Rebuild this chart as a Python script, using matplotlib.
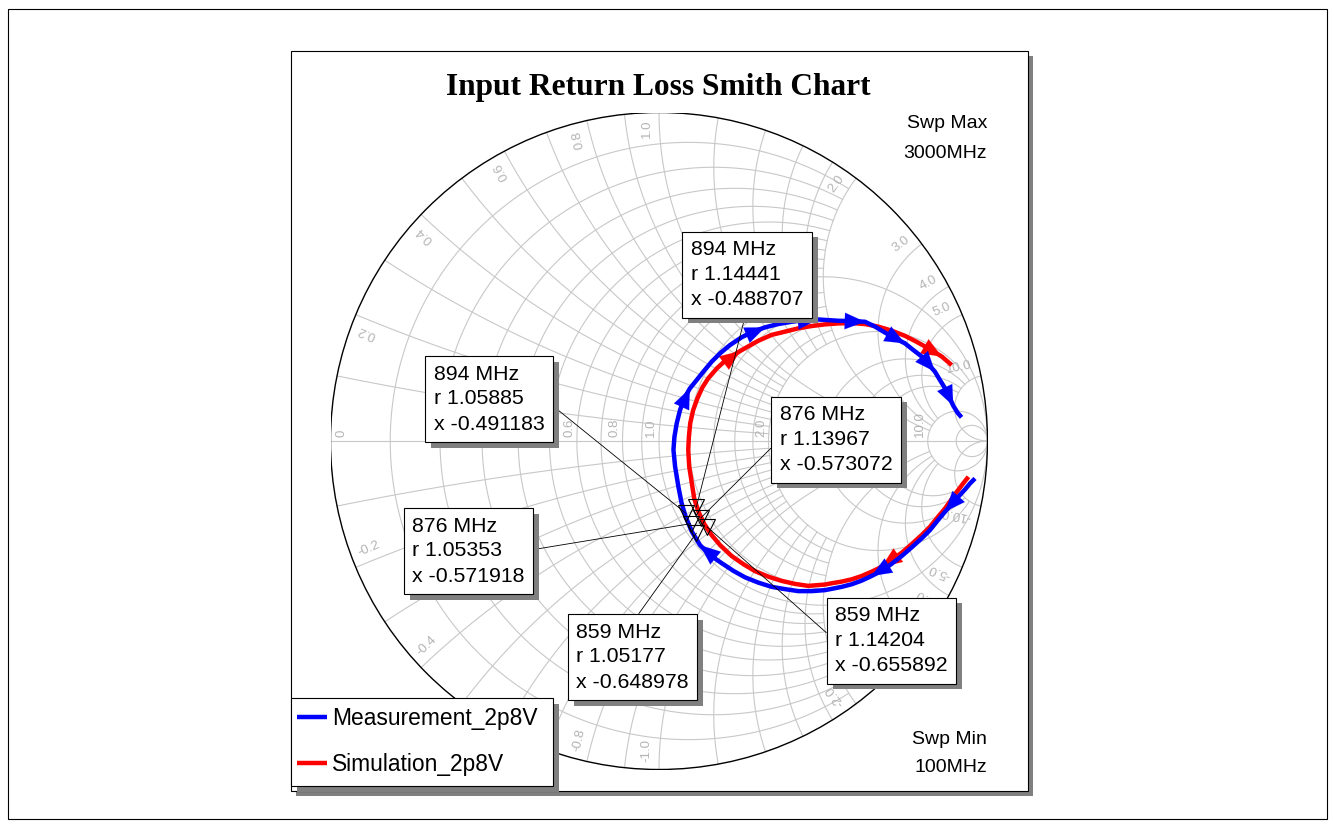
import numpy as np
import matplotlib
matplotlib.use("Agg")
import matplotlib.pyplot as plt
from matplotlib.patches import Rectangle, Circle
import matplotlib.patheffects as pe

# ---------------- data (reflection coefficient) ----------------
meas_re = [0.962, 0.947, 0.932, 0.911, 0.891, 0.871, 0.850, 0.825, 0.800, 0.769,
           0.739, 0.708, 0.678, 0.647, 0.617, 0.587, 0.556, 0.526, 0.505, 0.465,
           0.424, 0.384, 0.343, 0.302, 0.262, 0.226, 0.191, 0.155, 0.125, 0.100,
           0.081, 0.069, 0.059, 0.049, 0.044, 0.047, 0.054, 0.064, 0.077, 0.094,
           0.115, 0.135, 0.160, 0.186, 0.216, 0.252, 0.287, 0.323, 0.363, 0.404,
           0.444, 0.484, 0.546, 0.587, 0.627, 0.658, 0.688, 0.718, 0.749, 0.774,
           0.800, 0.820, 0.840, 0.855, 0.871, 0.883, 0.896, 0.909, 0.921]
meas_im = [-0.114, -0.129, -0.147, -0.170, -0.192, -0.215, -0.240, -0.271, -0.296, -0.324,
           -0.350, -0.374, -0.395, -0.411, -0.425, -0.436, -0.444, -0.450, -0.454, -0.457,
           -0.457, -0.451, -0.444, -0.431, -0.415, -0.395, -0.372, -0.347, -0.317, -0.276,
           -0.230, -0.190, -0.139, -0.078, -0.027, 0.013, 0.054, 0.094, 0.130, 0.160,
           0.186, 0.211, 0.241, 0.267, 0.292, 0.316, 0.333, 0.346, 0.356, 0.363,
           0.368, 0.370, 0.366, 0.365, 0.363, 0.348, 0.330, 0.313, 0.297, 0.277,
           0.257, 0.234, 0.211, 0.186, 0.160, 0.135, 0.107, 0.086, 0.072]
meas_arrows = [5, 13, 28, 39, 47, 51, 54, 58, 62, 66]

sim_re = [0.942, 0.926, 0.911, 0.891, 0.871, 0.850, 0.825, 0.800, 0.769, 0.739,
          0.708, 0.678, 0.647, 0.617, 0.587, 0.556, 0.526, 0.505, 0.454, 0.414,
          0.374, 0.333, 0.292, 0.257, 0.221, 0.186, 0.160, 0.138, 0.120, 0.107,
          0.100, 0.092, 0.089, 0.091, 0.095, 0.104, 0.117, 0.132, 0.150, 0.176,
          0.201, 0.247, 0.302, 0.343, 0.384, 0.424, 0.465, 0.505, 0.546, 0.587,
          0.627, 0.668, 0.708, 0.749, 0.784, 0.820, 0.861, 0.891]
sim_im = [-0.109, -0.129, -0.149, -0.177, -0.205, -0.230, -0.261, -0.286, -0.314, -0.340,
          -0.362, -0.383, -0.398, -0.411, -0.421, -0.428, -0.433, -0.437, -0.441, -0.435,
          -0.426, -0.413, -0.396, -0.375, -0.350, -0.317, -0.286, -0.253, -0.215, -0.174,
          -0.129, -0.078, -0.027, 0.013, 0.054, 0.094, 0.130, 0.163, 0.191, 0.221,
          0.244, 0.274, 0.305, 0.323, 0.333, 0.343, 0.350, 0.355, 0.358, 0.359,
          0.356, 0.348, 0.336, 0.320, 0.302, 0.282, 0.257, 0.231]
sim_arrows = [11, 41, 56]

marker_freq = ["859 MHz", "876 MHz", "894 MHz"]
meas_mk_r = [1.05177, 1.05353, 1.05885]
meas_mk_x = [-0.648978, -0.571918, -0.491183]
sim_mk_r = [1.14204, 1.13967, 1.14441]
sim_mk_x = [-0.655892, -0.573072, -0.488707]

series_names = ["Measurement_2p8V", "Simulation_2p8V"]
title = "Input Return Loss Smith Chart"
r_labels = [0.2, 0.4, 0.6, 0.8, 1.0, 2.0, 3.0, 4.0, 5.0, 10.0]

# ---------------- layout ----------------
W, H = 1334, 827
CX, CY, R = 659.0, 441.0, 328.5
SANS = ["Liberation Sans", "DejaVu Sans"]
SERIF = ["Liberation Serif", "DejaVu Serif"]
GRID_C = "#c8c8c8"
LBL_C = "#b4b4b4"
SHADOW = [pe.SimplePatchShadow(offset=(4.3, -4.3), shadow_rgbFace="#808080", alpha=1.0),
          pe.Normal()]

fig = plt.figure(figsize=(W / 100, H / 100), dpi=100)
bg = fig.add_axes([0, 0, 1, 1])
bg.set_xlim(0, W)
bg.set_ylim(H, 0)
bg.axis("off")

# outer frame and panel with shadow
bg.add_patch(Rectangle((7.5, 8.5), 1319, 810, fill=False, ec="black", lw=0.8))
bg.add_patch(Rectangle((296, 56), 737, 740, fc="#808080", ec="none"))
bg.add_patch(Rectangle((290.5, 50.5), 737, 740, fc="white", ec="black", lw=0.8))

bg.text(658, 87, title, ha="center", va="center", fontsize=22.6,
        fontweight="bold", family=SERIF)
bg.text(987, 123, "Swp Max", ha="right", va="center", fontsize=14, family=SANS)
bg.text(987, 153, "3000MHz", ha="right", va="center", fontsize=14, family=SANS)
bg.text(987, 739, "Swp Min", ha="right", va="center", fontsize=14, family=SANS)
bg.text(987, 768, "100MHz", ha="right", va="center", fontsize=14, family=SANS)

# Smith chart axes in reflection-coefficient units
ax = fig.add_axes([(CX - R) / W, (H - CY - R) / H, 2 * R / W, 2 * R / H])
ax.set_xlim(-1, 1)
ax.set_ylim(-1, 1)
ax.axis("off")
ax.patch.set_alpha(0)


def gam(z):
    return (z - 1) / (z + 1)


def r_arc(r, xmax):
    xs = np.concatenate([-np.logspace(np.log10(xmax), -4, 400), [0],
                         np.logspace(-4, np.log10(xmax), 400)])
    g = gam(r + 1j * xs)
    ax.plot(g.real, g.imag, color=GRID_C, lw=0.8, zorder=1)


def x_arc(x, rmax):
    rs = np.concatenate([[0], np.logspace(-4, np.log10(rmax), 500)])
    g = gam(rs + 1j * x)
    ax.plot(g.real, g.imag, color=GRID_C, lw=0.8, zorder=1)


minor = [0.1, 0.2, 0.3, 0.4, 0.5, 0.6, 0.7, 0.8, 0.9]
for r in minor:
    r_arc(r, 2.0)
r_arc(1.0, 1e5)
for r in [1.2, 1.4, 1.6, 1.8]:
    r_arc(r, 2.0)
for r in [2.0, 3.0, 4.0, 5.0]:
    r_arc(r, 10.0)
r_arc(10.0, 1e5)
r_arc(20.0, 1e5)
for x in minor + [1.0]:
    for s in (1, -1):
        x_arc(s * x, 2.0 if x != 1.0 else 5.0)
for x in [1.2, 1.4, 1.6, 1.8]:
    for s in (1, -1):
        x_arc(s * x, 2.0)
for x in [2.0, 3.0, 4.0, 5.0]:
    for s in (1, -1):
        x_arc(s * x, 10.0)
for s in (1, -1):
    x_arc(s * 10.0, 1e4)
ax.plot([-1, 1], [0, 0], color=GRID_C, lw=0.8, zorder=1)
ax.add_patch(Circle((0, 0), 1, fill=False, ec="black", lw=1.0, zorder=2))

# grid labels
lbl_fs = 9.5
ax.text(gam(0) + 0.052, 0.012, "0", rotation=90, ha="left", va="bottom", color=LBL_C,
        fontsize=lbl_fs, family=SANS, rotation_mode="anchor")
for r in r_labels:
    g = gam(r)
    ax.text(g - 0.005, 0.012, f"{r:.1f}", rotation=90, ha="left", va="bottom",
            color=LBL_C, fontsize=lbl_fs, family=SANS, rotation_mode="anchor")
for x in r_labels:
    for s in (1, -1):
        g = gam(1j * s * x)
        ang = np.degrees(np.angle(g))
        da = np.radians(2.2) * (1 if s > 0 else -1)
        a = np.angle(g) + da
        px, py = 0.978 * np.cos(a), 0.978 * np.sin(a)
        if s > 0:
            ax.text(px, py, f"{x:.1f}", rotation=ang, ha="right", va="center",
                    color=LBL_C, fontsize=lbl_fs, family=SANS, rotation_mode="anchor")
        else:
            ax.text(px, py, f"-{x:.1f}", rotation=ang + 180, ha="left", va="center",
                    color=LBL_C, fontsize=lbl_fs, family=SANS, rotation_mode="anchor")

# curves (measurement drawn on top)
colors = ["#0000ff", "#ff0000"]
zs = [6, 5]
handles = []
for re, im, arr, c, name, z in [(meas_re, meas_im, meas_arrows, colors[0], series_names[0], zs[0]),
                                (sim_re, sim_im, sim_arrows, colors[1], series_names[1], zs[1])]:
    ln, = ax.plot(re, im, color=c, lw=3.2, solid_joinstyle="round",
                  solid_capstyle="butt", zorder=z, label=name)
    handles.append(ln)
    for i in arr:
        ax.annotate("", xy=(re[i], im[i]), xytext=(re[i - 2], im[i - 2]),
                    arrowprops=dict(arrowstyle="-|>,head_length=0.8,head_width=0.33",
                                    color=c, lw=0.1, mutation_scale=18,
                                    shrinkA=0, shrinkB=0), zorder=z + 0.5)

# markers
mk_pts = []
for rr, xx in [(meas_mk_r, meas_mk_x), (sim_mk_r, sim_mk_x)]:
    g = gam(np.array(rr) + 1j * np.array(xx))
    mk_pts.append(g)
    ax.plot(g.real, g.imag, ls="none", marker="v", ms=12, mfc="none", mec="black",
            mew=0.8, zorder=8)

# marker boxes: (series, index, box centre px, side of leader)
boxes = [
    (1, 2, (747, 274.5), (0.5, 0.0)),
    (0, 2, (489, 399), (1.0, 0.5)),
    (1, 1, (836, 439.5), (0.0, 0.5)),
    (0, 1, (468.5, 551), (1.0, 0.5)),
    (0, 0, (632.5, 657), (0.5, 1.0)),
    (1, 0, (891.5, 640.5), (0.0, 0.5)),
]
for si, mi, (bx, by), rel in boxes:
    rr = [meas_mk_r, sim_mk_r][si][mi]
    xx = [meas_mk_x, sim_mk_x][si][mi]
    g = mk_pts[si][mi]
    txt = f"{marker_freq[mi]}\nr {rr:g}\nx {xx:g}"
    an = ax.annotate(txt, xy=(g.real, g.imag), xytext=(bx, by), textcoords=bg.transData,
                     ha="center", va="center", fontsize=15.3, family=SANS,
                     linespacing=1.4, multialignment="left",
                     bbox=dict(boxstyle="square,pad=0.4", fc="white", ec="black", lw=0.8),
                     arrowprops=dict(arrowstyle="-", color="black", lw=0.6,
                                     relpos=rel, shrinkA=0, shrinkB=0),
                     zorder=10, annotation_clip=False)
    an.get_bbox_patch().set_path_effects(SHADOW)

# legend: frame drawn as its own box, entries from the real legend
frame = Rectangle((291, 698), 262, 88, transform=bg.transData, fc="white",
                  ec="black", lw=0.8, clip_on=False, zorder=19)
frame.set_path_effects(SHADOW)
ax.add_patch(frame)
leg = ax.legend(handles=handles, loc="upper left", bbox_to_anchor=(291, 701.5),
                bbox_transform=bg.transData, borderaxespad=0, frameon=False,
                prop={"family": SANS, "size": 16.4}, handlelength=1.3,
                handletextpad=0.25, borderpad=0.26, labelspacing=1.0)
leg.set_zorder(20)

fig.savefig("out.png", dpi=100)
